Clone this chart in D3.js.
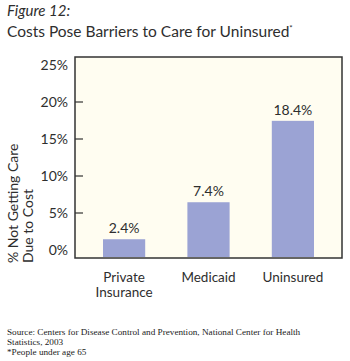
<!DOCTYPE html>
<html>
<head>
<meta charset="utf-8">
<script src="https://cdn.jsdelivr.net/npm/d3@7"></script>
<style>
  body { margin: 0; background: #fff; }
  text { font-family: Lato, "Open Sans", sans-serif; fill: #2e2e2e; }
  .foot { font-family: "Liberation Serif", "DejaVu Serif", serif; font-size: 9.2px; fill: #222; }
</style>
</head>
<body>
<div id="chart"></div>
<script>
// data
var categories = [["Private", "Insurance"], ["Medicaid"], ["Uninsured"]];
var values = [2.4, 7.4, 18.4];
var yTicks = [0, 5, 10, 15, 20, 25];

var width = 350,
    height = 361;

var svg = d3.select("#chart").append("svg")
  .attr("width", width)
  .attr("height", height);

// titles
svg.append("text")
  .attr("x", 7).attr("y", 16)
  .style("font-size", "15px")
  .style("font-style", "italic")
  .text("Figure 12:");

var title = svg.append("text")
  .attr("x", 7).attr("y", 37)
  .style("font-size", "15.5px")
  .text("Costs Pose Barriers to Care for Uninsured");
title.append("tspan")
  .attr("dy", -6)
  .style("font-size", "8px")
  .text("*");

// plot box
var box = { left: 75, right: 342, top: 57, bottom: 258 };

svg.append("rect")
  .attr("x", box.left).attr("y", box.top)
  .attr("width", box.right - box.left)
  .attr("height", box.bottom - box.top)
  .attr("fill", "#fffdf1")
  .attr("stroke", "#333")
  .attr("stroke-width", 1.5);

var x = d3.scaleBand()
  .domain(d3.range(values.length))
  .range([103, 314])
  .paddingInner(0.5);

var y = d3.scaleLinear()
  .domain([0, 25])
  .range([257, 72]);

// y axis (labels sit a little above the bar scale in the original)
var yAxis = svg.append("g")
  .attr("transform", "translate(" + box.left + ",-7)")
  .call(d3.axisLeft(y).tickValues(yTicks).tickFormat(function(d) { return d + "%"; })
    .tickSize(0).tickPadding(7));
yAxis.select(".domain").remove();
yAxis.selectAll("text")
  .style("font-size", "14px")
  .style("font-family", "Lato, sans-serif")
  .attr("fill", "#2e2e2e");

svg.append("g").selectAll("line")
  .data(yTicks.filter(function(d) { return d > 0 && d < 25; }))
  .enter().append("line")
  .attr("x1", box.left).attr("x2", box.left + 8)
  .attr("y1", function(d) { return y(d) - 7; })
  .attr("y2", function(d) { return y(d) - 7; })
  .attr("stroke", "#333")
  .attr("stroke-width", 1.2);

// y title
var yTitle = svg.append("text")
  .attr("transform", "translate(18,263) rotate(-90)")
  .style("font-size", "14px");
yTitle.append("tspan").attr("x", 0).attr("y", 0).text("% Not Getting Care");
yTitle.append("tspan").attr("x", 0).attr("y", 15).text("Due to Cost");

// bars
svg.append("g").selectAll("rect")
  .data(values)
  .enter().append("rect")
  .attr("x", function(d, i) { return x(i); })
  .attr("y", function(d) { return y(d); })
  .attr("width", x.bandwidth())
  .attr("height", function(d) { return y(0) - y(d); })
  .attr("fill", "#9ba3d4");

// value labels
svg.append("g").selectAll("text")
  .data(values)
  .enter().append("text")
  .attr("x", function(d, i) { return x(i) + x.bandwidth() / 2; })
  .attr("y", function(d) { return y(d) - 6; })
  .attr("text-anchor", "middle")
  .style("font-size", "14px")
  .text(function(d) { return d.toFixed(1) + "%"; });

// category labels, one text per line
var catLines = [];
categories.forEach(function(lines, i) {
  lines.forEach(function(l, j) { catLines.push({ i: i, j: j, text: l }); });
});
svg.append("g").selectAll("text")
  .data(catLines)
  .enter().append("text")
  .attr("text-anchor", "middle")
  .style("font-size", "13.5px")
  .attr("x", function(d) { return x(d.i) + x.bandwidth() / 2; })
  .attr("y", function(d) { return 282 + d.j * 15; })
  .text(function(d) { return d.text; });

// footer
var foot = ["Source: Centers for Disease Control and Prevention, National Center for Health",
            "Statistics, 2003",
            "*People under age 65"];
svg.append("g").selectAll("text")
  .data(foot)
  .enter().append("text")
  .attr("class", "foot")
  .attr("x", 7)
  .attr("y", function(d, i) { return 335 + i * 10; })
  .text(function(d) { return d; });
</script>
</body>
</html>
